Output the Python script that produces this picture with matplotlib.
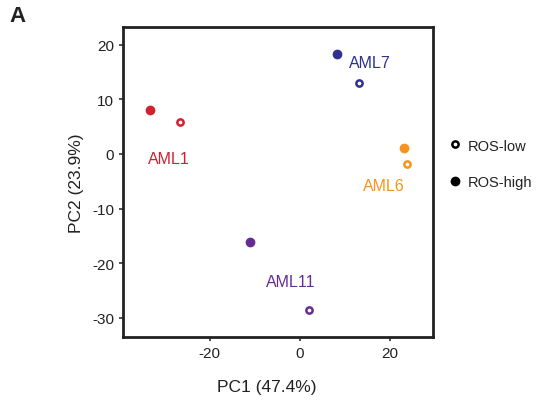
import matplotlib.pyplot as plt
from matplotlib.lines import Line2D

plt.rcParams['font.family'] = ['Liberation Sans', 'DejaVu Sans']
plt.rcParams['axes.unicode_minus'] = False

samples = ['AML1', 'AML7', 'AML6', 'AML11']
colors = ['#d12030', '#2e3192', '#f7941d', '#662d91']
# PCA scores per sample: (ROS-high, ROS-low)
pc1_high = [-33.3, 8.2, 23.1, -11.1]
pc2_high = [8.0, 18.3, 1.1, -16.1]
pc1_low = [-26.7, 13.1, 23.8, 2.0]
pc2_low = [5.9, 13.0, -1.8, -28.5]
label_pos = [(-29.2, -0.9), (15.7, 16.7), (18.6, -5.8), (-1.9, -23.3)]

fig = plt.figure(figsize=(5.37, 4.02), dpi=100)
ax = fig.add_axes([0.229, 0.159, 0.577, 0.771])

for i, name in enumerate(samples):
    c = colors[i]
    ax.plot(pc1_high[i], pc2_high[i], 'o', ms=6, color=c, mec=c)
    ax.plot(pc1_low[i], pc2_low[i], 'o', ms=4.5, mfc='white', mec=c, mew=1.8)
    ax.text(label_pos[i][0], label_pos[i][1], name, color=c, fontsize=11.5,
            ha='center', va='center')

ax.set_xlim(-39.3, 29.6)
ax.set_ylim(-33.5, 23.2)
ax.set_xticks([-20, 0, 20])
ax.set_yticks([-30, -20, -10, 0, 10, 20])
ax.tick_params(labelsize=11, length=3, width=1.2, color='#333333',
               labelcolor='#222222')
for s in ax.spines.values():
    s.set_linewidth(2)
    s.set_color('#222222')

ax.set_xlabel('PC1 (47.4%)', fontsize=12.5, color='#222222')
ax.xaxis.set_label_coords(0.465, -0.135)
ax.set_ylabel('PC2 (23.9%)', fontsize=12.5, color='#222222', labelpad=6)

handles = [
    Line2D([], [], marker='o', ls='', ms=4.5, mfc='white', mec='black', mew=1.8),
    Line2D([], [], marker='o', ls='', ms=6, color='black'),
]
fig.legend(handles, ['ROS-low', 'ROS-high'], loc='center left',
           bbox_to_anchor=(0.836, 0.59), frameon=False, fontsize=10.5,
           handletextpad=0.5, labelspacing=1.55, handlelength=0.8,
           borderaxespad=0, borderpad=0, labelcolor='#222222')

fig.text(0.018, 0.96, 'A', fontsize=16, weight='bold', va='center',
         color='#222222')

fig.savefig('out.png', dpi=100)
